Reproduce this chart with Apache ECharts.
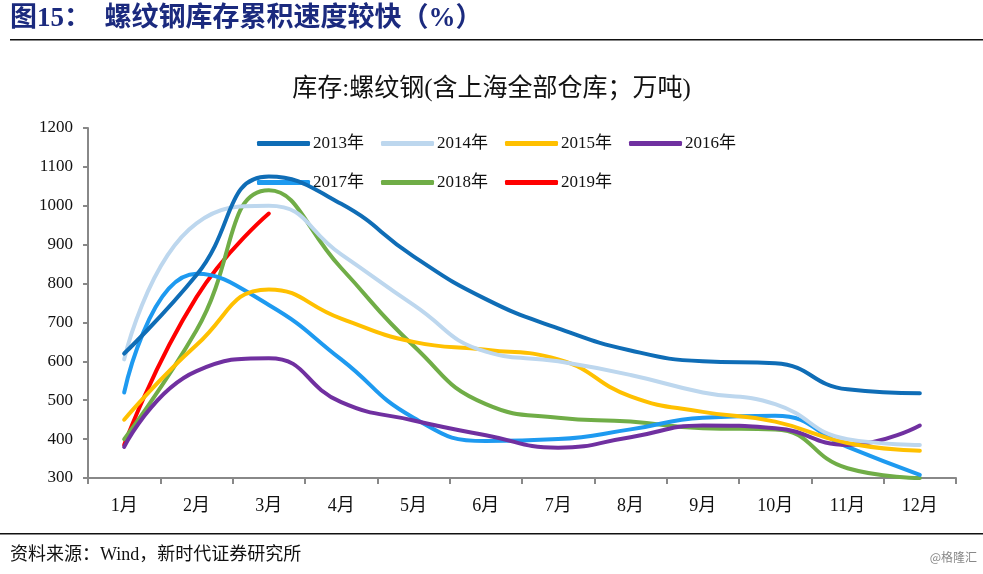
<!DOCTYPE html>
<html>
<head>
<meta charset="utf-8">
<script src="https://cdn.jsdelivr.net/npm/echarts@6/dist/echarts.min.js"></script>
<style>
html,body{margin:0;padding:0;background:#fff;}
#chart{width:983px;height:574px;}
</style>
</head>
<body>
<div id="chart"></div>
<script>
const months = ['1月','2月','3月','4月','5月','6月','7月','8月','9月','10月','11月','12月'];
const s2013 = [620, 822, 1075, 1005, 870, 760, 685, 628, 600, 595, 528, 518];
const s2014 = [605, 955, 1000, 875, 745, 625, 600, 565, 520, 490, 400, 385];
const s2015 = [450, 642, 785, 710, 650, 630, 605, 510, 470, 445, 390, 370];
const s2016 = [380, 575, 608, 495, 448, 410, 378, 405, 435, 428, 385, 435];
const s2017 = [520, 825, 745, 605, 455, 395, 400, 425, 455, 460, 380, 308];
const s2018 = [400, 680, 1040, 840, 640, 490, 455, 445, 428, 425, 325, 300];
const s2019 = [385, 765, 980];
const seriesNames = ['2013年','2014年','2015年','2016年','2017年','2018年','2019年'];
const seriesData = [s2013, s2014, s2015, s2016, s2017, s2018, s2019];
const colors = ['#0F6DB6','#BDD7EE','#FFC000','#7030A0','#1E9AF0','#70AD47','#FF0000'];
const yMin = 300, yMax = 1200, yStep = 100;

const serif = "'Liberation Serif','Times New Roman','Noto Sans CJK SC',serif";
const chart = echarts.init(document.getElementById('chart'), null, {renderer:'canvas'});

const legendCommon = {
  icon: 'roundRect',
  itemWidth: 53,
  itemHeight: 5,
  itemGap: 17,
  textStyle: {fontFamily: serif, fontSize: 17, color: '#111', padding:[0,0,0,-2]},
  padding: 0
};

chart.setOption({
  animation: false,
  color: colors,
  title: {
    text: '库存:螺纹钢(含上海全部仓库；万吨)',
    left: 'center',
    top: 72,
    textStyle: {fontFamily: serif, fontSize: 25, fontWeight: 'normal', color: '#111'}
  },
  legend: [
    Object.assign({left: 257, top: 135, data: seriesNames.slice(0,4)}, legendCommon),
    Object.assign({left: 257, top: 174, data: seriesNames.slice(4)}, legendCommon)
  ],
  grid: {left: 88, right: 27, top: 128, bottom: 96, containLabel: false},
  xAxis: {
    type: 'category',
    data: months,
    boundaryGap: true,
    axisLine: {lineStyle: {color: '#888', width: 2}},
    axisTick: {show: true, inside: false, length: 6, interval: 0, lineStyle: {color: '#888', width: 2}},
    axisLabel: {fontFamily: serif, fontSize: 18, color: '#111', margin: 19}
  },
  yAxis: {
    type: 'value',
    min: yMin, max: yMax, interval: yStep,
    axisLine: {show: true, lineStyle: {color: '#888', width: 2}},
    axisTick: {show: true, inside: false, length: 5, lineStyle: {color: '#888', width: 2}},
    splitLine: {show: false},
    axisLabel: {fontFamily: serif, fontSize: 17, color: '#111', margin: 15, formatter: v => String(v)}
  },
  series: seriesNames.map((n, i) => ({
    name: n,
    type: 'line',
    data: seriesData[i],
    smooth: 0.5,
    symbol: 'none',
    lineStyle: {width: 4, color: colors[i], cap: 'round'},
    itemStyle: {color: colors[i]},
    z: 10 - i
  })),
  graphic: [
    {type:'text', left: 10, top: 6, style:{text:'图15：  螺纹钢库存累积速度较快（%）', fontFamily: serif, fontSize: 27, fontWeight:'bold', fill:'#1B2A7E'}},
    {type:'rect', shape:{x:10, y:39, width:973, height:1.5}, style:{fill:'#111'}},
    {type:'rect', shape:{x:0, y:533, width:983, height:1.5}, style:{fill:'#111'}},
    {type:'text', left: 10, top: 546, style:{text:'资料来源：Wind，新时代证券研究所', fontFamily: serif, fontSize: 18, fill:'#111'}},
    {type:'text', right: 6, top: 551, style:{text:'@格隆汇', fontFamily: "'Noto Sans CJK SC',sans-serif", fontSize: 12, fill:'#888'}}
  ]
});
</script>
</body>
</html>
